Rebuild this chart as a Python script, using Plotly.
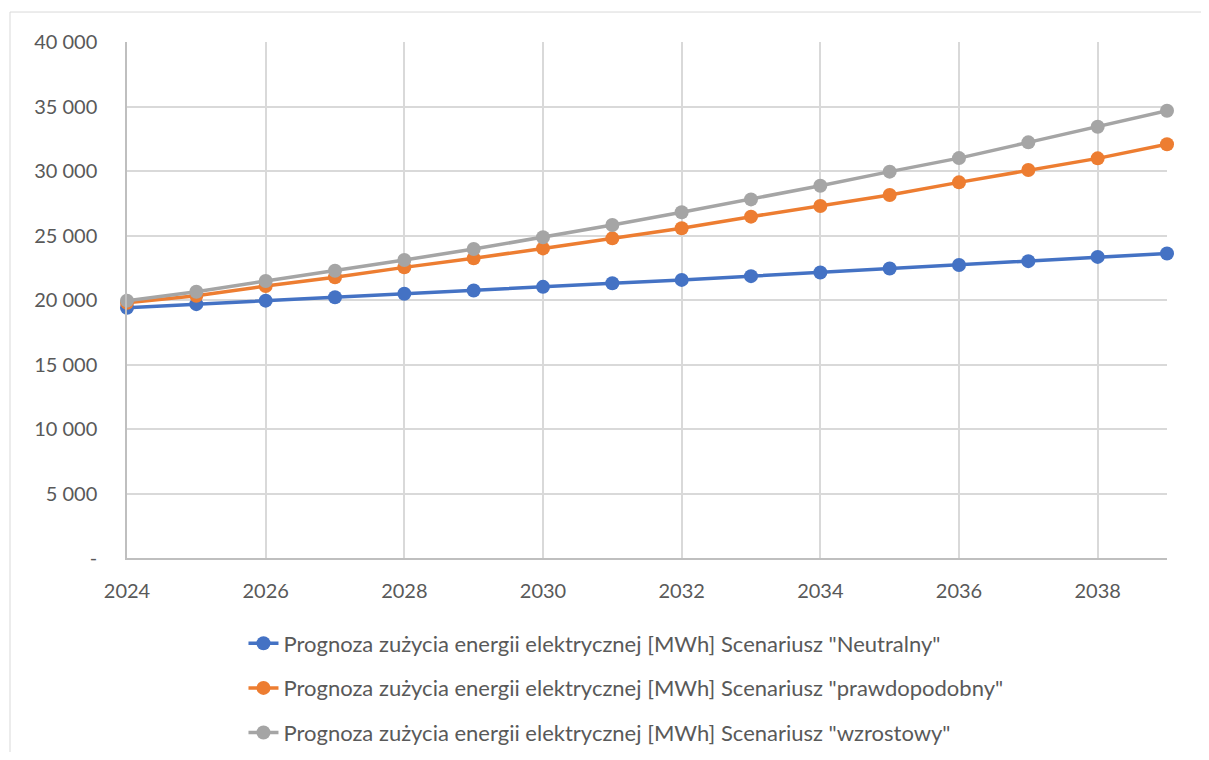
import plotly.graph_objects as go

# data
years = list(range(2024, 2040))
neutralny = [19400, 19680, 19950, 20210, 20480, 20740, 21020, 21300,
             21560, 21850, 22130, 22440, 22710, 23010, 23340, 23610]
prawdopodobny = [19790, 20330, 21080, 21760, 22530, 23230, 24000, 24780,
                 25560, 26460, 27290, 28140, 29120, 30080, 30980, 32070]
wzrostowy = [19950, 20640, 21470, 22270, 23100, 23950, 24860, 25810,
             26800, 27800, 28860, 29950, 31000, 32220, 33430, 34670]

series_names = [
    'Prognoza zużycia energii elektrycznej [MWh] Scenariusz "Neutralny"',
    'Prognoza zużycia energii elektrycznej [MWh] Scenariusz "prawdopodobny"',
    'Prognoza zużycia energii elektrycznej [MWh] Scenariusz "wzrostowy"',
]
series_colors = ["#4472C4", "#ED7D31", "#A5A5A5"]

x_tick_vals = [2024, 2026, 2028, 2030, 2032, 2034, 2036, 2038]
x_tick_text = [str(v) for v in x_tick_vals]
y_tick_vals = [0, 5000, 10000, 15000, 20000, 25000, 30000, 35000, 40000]
y_tick_text = ["-", "5 000", "10 000", "15 000", "20 000", "25 000",
               "30 000", "35 000", "40 000"]

FONT = "Lato"
TEXT_COLOR = "#595959"

fig = go.Figure()
for i, (vals, name, color) in enumerate(zip([neutralny, prawdopodobny, wzrostowy],
                                            series_names, series_colors)):
    fig.add_trace(go.Scatter(
        x=years,
        y=vals,
        mode="lines+markers",
        name=name,
        legendgroup=f"g{i}",
        line=dict(color=color, width=3.5),
        marker=dict(color=color, size=14),
        cliponaxis=False,
    ))

# outer chart-area border (Excel style)
fig.add_shape(type="rect", xref="paper", yref="paper",
              x0=-0.1125, x1=1.06, y0=-0.45, y1=1.0581,
              line=dict(color="#d9d9d9", width=1), fillcolor="rgba(0,0,0,0)",
              layer="below")

# page body has an 8px margin, so the figure is shifted by 8px
fig.update_layout(
    width=1193,
    height=744,
    paper_bgcolor="white",
    plot_bgcolor="white",
    margin=dict(l=119, r=34, t=34, b=194, autoexpand=False),
    font=dict(family=FONT, size=20, color=TEXT_COLOR),
    showlegend=True,
    legend=dict(
        x=0.112, xanchor="left",
        y=-0.125, yanchor="top",
        traceorder="grouped",
        tracegroupgap=13,
        font=dict(family=FONT, size=22, color=TEXT_COLOR),
        bgcolor="rgba(0,0,0,0)",
    ),
    xaxis=dict(
        range=[2024, 2039],
        tickvals=x_tick_vals,
        ticktext=x_tick_text,
        showgrid=True,
        gridcolor="#d9d9d9",
        gridwidth=1.5,
        showline=True,
        linecolor="#bfbfbf",
        linewidth=1.5,
        zeroline=False,
        ticks="",
        ticklabelstandoff=14,
        fixedrange=True,
    ),
    yaxis=dict(
        range=[0, 40000],
        tickvals=y_tick_vals,
        ticktext=y_tick_text,
        showgrid=True,
        gridcolor="#d9d9d9",
        gridwidth=1.5,
        showline=True,
        linecolor="#bfbfbf",
        linewidth=1.5,
        zeroline=False,
        ticks="",
        ticklabelstandoff=24,
        fixedrange=True,
    ),
)

fig.write_html("out.html")
